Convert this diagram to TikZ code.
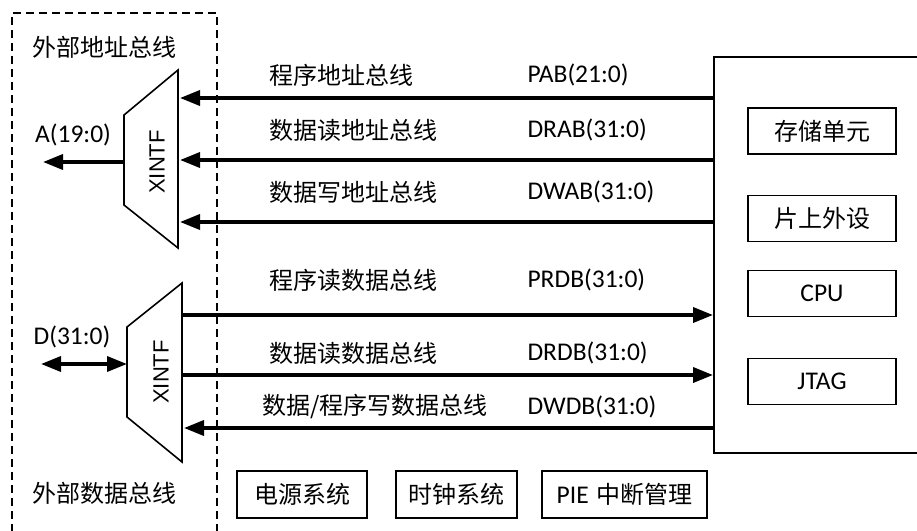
\documentclass[tikz,border=0pt]{standalone}
\usepackage{fontspec}
\setmainfont{Carlito}
\newfontfamily\cjk{Noto Sans CJK SC}
\newfontfamily\arialf{Liberation Sans}
\usetikzlibrary{arrows.meta}
\begin{document}
\begin{tikzpicture}[x=1pt,y=-1pt,
  bus/.style={line width=3.6pt,-{Triangle[length=20pt,width=15pt]}},
  dbus/.style={line width=3.6pt,{Triangle[length=20pt,width=15pt]}-{Triangle[length=20pt,width=15pt]}},
  trap/.style={draw,line width=1.6pt,fill=white},
  box/.style={draw,line width=1.6pt,inner sep=0pt},
  zh/.style={font=\cjk\fontsize{24}{28}\selectfont},
  lat/.style={font=\fontsize{25.5}{29}\selectfont},
  xin/.style={font=\arialf\fontsize{22}{26}\selectfont,rotate=90},
  dashbox/.style={draw,line width=1.5pt,dash pattern=on 8pt off 5pt}
]
\useasboundingbox (0,0) rectangle (917,530);
\clip (0,0) rectangle (917,530);
\fill[white] (0,0) rectangle (917,530);

% dashed external region
\draw[dashbox] (12,545) -- (12,13) -- (217,13) -- (217,545);
\node[zh] (extA) at (104,47) {外部地址总线};
\node[zh] (extD) at (104,493) {外部数据总线};

% chip box
\node[box,minimum width=300pt,minimum height=396pt,anchor=north west] (chip) at (713,56) {};
\node[box,zh,minimum width=148pt,minimum height=46pt] (mem) at (822,131) {存储单元};
\node[box,zh,minimum width=148pt,minimum height=46pt] (per) at (822,218.5) {片上外设};
\node[box,lat,minimum width=148pt,minimum height=46pt] (cpu) at (822,293.5) {CPU};
\node[box,lat,minimum width=148pt,minimum height=46pt] (jtag) at (822,381.5) {JTAG};

% bottom boxes
\node[box,zh,minimum width=130pt,minimum height=47pt] (pwr) at (302,494.5) {电源系统};
\node[box,zh,minimum width=121pt,minimum height=47pt] (clk) at (456.5,494.5) {时钟系统};
\node[box,lat,minimum width=165pt,minimum height=47pt] (pie) at (624.5,494.5) {PIE\hspace{0.3em}{\cjk\fontsize{24}{28}\selectfont 中断管理}};

% trapezoids
\coordinate (t1a) at (124,115); \coordinate (t1b) at (178,70);
\coordinate (t1c) at (178,248); \coordinate (t1d) at (124,205);
\draw[trap] (t1a) -- (t1b) -- (t1c) -- (t1d) -- cycle;
\node[xin] (x1) at (157,162) {XINTF};
\coordinate (t2a) at (127,327); \coordinate (t2b) at (182,283);
\coordinate (t2c) at (182,462); \coordinate (t2d) at (127,417);
\draw[trap] (t2a) -- (t2b) -- (t2c) -- (t2d) -- cycle;
\node[xin] (x2) at (161,372) {XINTF};

% external arrows
\coordinate (t1w) at (124,162);
\coordinate (aend) at (43,162);
\draw[bus] (t1w) -- (aend);
\node[lat] (alab) at (73,135) {A(19:0)};
\coordinate (t2w) at (127,364);
\coordinate (dend) at (41,364);
\draw[dbus] (dend) -- (t2w);
\node[lat] (dlab) at (72,337) {D(31:0)};

% bus endpoints
\foreach \n/\y in {1/98,2/160,3/222}{
  \coordinate (c\n) at (chip.west |- 0,\y);
  \coordinate (u\n) at (180,\y);
  \draw[bus] (c\n) -- (u\n);
}
\foreach \n/\y in {4/315,5/375}{
  \coordinate (c\n) at (chip.west |- 0,\y);
  \coordinate (u\n) at (182,\y);
  \draw[bus] (u\n) -- (c\n);
}
\coordinate (c6) at (chip.west |- 0,428);
\coordinate (u6) at (184,428);
\draw[bus] (c6) -- (u6);

% bus labels
\node[zh,anchor=west] (l1) at (266,75) {程序地址总线};
\node[lat,anchor=west] (r1) at (524,75) {PAB(21:0)};
\node[zh,anchor=west] (l2) at (266,130) {数据读地址总线};
\node[lat,anchor=west] (r2) at (524,130) {DRAB(31:0)};
\node[zh,anchor=west] (l3) at (266,192) {数据写地址总线};
\node[lat,anchor=west] (r3) at (524,192) {DWAB(31:0)};
\node[zh,anchor=west] (l4) at (266,280) {程序读数据总线};
\node[lat,anchor=west] (r4) at (524,280) {PRDB(31:0)};
\node[zh,anchor=west] (l5) at (266,353) {数据读数据总线};
\node[lat,anchor=west] (r5) at (524,353) {DRDB(31:0)};
\node[zh,anchor=west] (l6) at (259,407) {数据/程序写数据总线};
\node[lat,anchor=west] (r6) at (524,407) {DWDB(31:0)};
\end{tikzpicture}
\end{document}
